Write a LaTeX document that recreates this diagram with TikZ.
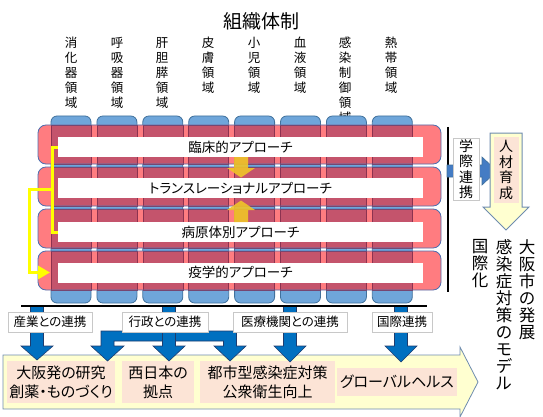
\documentclass[tikz,border=0pt]{standalone}
\usepackage{fontspec}
\setmainfont{Noto Sans CJK JP}[RawFeature={+palt}]
\usetikzlibrary{arrows.meta}
\definecolor{colblue}{RGB}{111,166,218}
\definecolor{colline}{RGB}{65,113,156}
\definecolor{rowpink}{RGB}{255,124,128}
\definecolor{rowdark}{RGB}{196,84,108}
\definecolor{rowedge}{RGB}{140,50,80}
\definecolor{rowline}{RGB}{79,110,175}
\definecolor{goldarr}{RGB}{240,196,40}
\definecolor{brightyel}{RGB}{255,255,0}
\definecolor{darrblue}{RGB}{0,112,192}
\definecolor{darrline}{RGB}{30,60,110}
\definecolor{lightyel}{RGB}{255,255,208}
\definecolor{bigline}{RGB}{110,140,175}
\definecolor{peach}{RGB}{252,228,214}
\definecolor{lblgray}{RGB}{200,200,200}
\definecolor{midblue}{RGB}{68,124,196}
\begin{document}
\begin{tikzpicture}[x=1pt,y=-1pt,
 colbox/.style={fill=colblue, draw=colline, line width=0.8pt, rounded corners=6pt},
 rowbg/.style={fill=rowpink, rounded corners=8pt},
 rowfrm/.style={draw=rowline, line width=0.8pt, rounded corners=8pt},
 ovl/.style={fill=rowdark, draw=rowedge, line width=0.5pt},
 wbox/.style={fill=white, minimum width=365pt, minimum height=20pt, inner sep=0pt, font=\fontsize{13.5}{16}\selectfont},
 gold/.style={fill=goldarr, fill opacity=0.9},
 ybr/.style={draw=brightyel, line width=3pt},
 barr/.style={fill=darrblue, draw=darrline, line width=0.6pt},
 lbl/.style={fill=white, draw=lblgray, line width=0.6pt, inner sep=0pt, minimum height=20pt, font=\fontsize{12.5}{15}\selectfont},
 pbox/.style={fill=peach, inner sep=0pt, align=center, font=\fontsize{15}{19}\selectfont},
 vtxt/.style={align=center, inner sep=0pt, font=\fontsize{12.5}{15}\selectfont},
 bigv/.style={align=center, inner sep=0pt, font=\fontsize{16.5}{17}\selectfont},
 midv/.style={align=center, inner sep=0pt, font=\fontsize{14}{15.5}\selectfont},
]
\useasboundingbox (0,0) rectangle (543,417);

% title
\node[font=\fontsize{19}{22}\selectfont, inner sep=0pt] (title) at (261,21) {組織体制};

% column labels
\node[vtxt] (c1) at (71,73) {消\\化\\器\\領\\域};
\node[vtxt] (c2) at (117,73) {呼\\吸\\器\\領\\域};
\node[vtxt] (c3) at (162,73) {肝\\胆\\膵\\領\\域};
\node[vtxt] (c4) at (208,65.5) {皮\\膚\\領\\域};
\node[vtxt] (c5) at (254,65.5) {小\\児\\領\\域};
\node[vtxt] (c6) at (300,65.5) {血\\液\\領\\域};
\node[vtxt] (c7) at (345,80.5) {感\\染\\制\\御\\領\\域};
\node[vtxt] (c8) at (391,65.5) {熱\\帯\\領\\域};

% columns
\foreach \i in {0,...,7}{
  \pgfmathsetmacro\xl{51+45.9*\i}
  \path[colbox] (\xl,116) rectangle (\xl+40,303);
}
% rows
\foreach \t in {125,167,209,251}{
  \path[rowbg] (38,\t) rectangle (441,\t+39);
  \foreach \i in {0,...,7}{
    \pgfmathsetmacro\xl{51+45.9*\i}
    \path[ovl] (\xl,\t) rectangle (\xl+40,\t+39);
  }
  \path[rowfrm] (38,\t) rectangle (441,\t+39);
}

% white approach boxes
\node[wbox] (w1) at (240.5,147) {臨床的アプローチ};
\node[wbox] (w2) at (240.5,188) {トランスレーショナルアプローチ};
\node[wbox] (w3) at (240.5,232) {病原体別アプローチ};
\node[wbox] (w4) at (240.5,272.5) {疫学的アプローチ};

% gold arrows
\path[gold] (234,157) -- (248,157) -- (248,168) -- (255,168) -- (241,177.5) -- (227,168) -- (234,168) -- cycle;
\path[gold] (234,222) -- (248,222) -- (248,210) -- (255,210) -- (241,200.5) -- (227,210) -- (234,210) -- cycle;

% yellow bracket
\draw[ybr] (w1.west) -- ++(-5,0) coordinate (bA) -- (bA |- w3.west) -- (w3.west);
\coordinate (bM) at (53,189);
\coordinate (tipY) at (50,272.5);
\draw[ybr, -{Triangle[length=12pt,width=13pt]}] (bM) -- (29,189) -- (29,272.5) -- (tipY);

% right side: vertical line, arrow, boxes
\draw[line width=1.5pt] (448,127) -- (448,292);
\path[fill=midblue, draw=colline, line width=0.6pt] (447,165) -- (482,165) -- (482,157) -- (497,171) -- (482,185) -- (482,177) -- (447,177) -- cycle;
\node[fill=white, draw=lblgray, line width=0.6pt, minimum width=26pt, minimum height=62pt, inner sep=0pt] (gk) at (466,169) {};
\node[midv] (gkt) at (466,169) {学\\際\\連\\携};

\path[fill=lightyel, draw=bigline, line width=1pt] (490,133) -- (522,133) -- (522,207) -- (529,207) -- (506,230) -- (483,207) -- (490,207) -- cycle;
\node[fill=peach, minimum width=25pt, minimum height=66pt, inner sep=0pt] (jz) at (506,170) {};
\node[midv] (jzt) at (506,170) {人\\材\\育\\成};

\node[bigv] (r1) at (527,289.5) {大\\阪\\市\\の\\発\\展};
\node[bigv] (r2) at (504,315) {感\\染\\症\\対\\策\\の\\モ\\デ\\ル};
\node[bigv] (r3) at (480,264) {国\\際\\化};

% bottom big arrow
\path[fill=lightyel, draw=bigline, line width=0.8pt] (3,355) -- (460,355) -- (460,347) -- (478,382) -- (460,417) -- (460,409) -- (3,409) -- cycle;

% peach boxes
\node[pbox, minimum width=108pt, minimum height=42pt] (p1) at (61,382) {大阪発の研究\\創薬・ものづくり};
\node[pbox, minimum width=72pt, minimum height=42pt] (p2) at (158,382) {西日本の\\拠点};
\node[pbox, minimum width=135pt, minimum height=42pt] (p3) at (267.5,382) {都市型感染症対策\\公衆衛生向上};
\node[pbox, minimum width=120pt, minimum height=28pt] (p4) at (397,382) {グローバルヘルス};

% blue down arrows
\path[barr] (169,331) -- (101,331) -- (101,346) -- (91,346) -- (107.5,361) -- (124,346) -- (114,346) -- (114,341) -- (169,341) -- cycle;
\path[barr] (169,331) -- (236.5,331) -- (236.5,346) -- (246,346) -- (230,361) -- (214,346) -- (223.5,346) -- (223.5,341) -- (169,341) -- cycle;
\foreach \c/\t in {37/360, 169/361, 290/362, 401/362}{
  \path[barr] (\c-6.5,306) -- (\c+6.5,306) -- (\c+6.5,346) -- (\c+16,346) -- (\c,\t) -- (\c-16,346) -- (\c-6.5,346) -- cycle;
}
\draw[line width=1.5pt] (21,306) -- (427,306);

% labels
\node[lbl, minimum width=84pt] (l1) at (50,322) {産業との連携};
\node[lbl, minimum width=86pt] (l2) at (165,322) {行政との連携};
\node[lbl, minimum width=114pt] (l3) at (290,322) {医療機関との連携};
\node[lbl, minimum width=60pt] (l4) at (402,322) {国際連携};
\end{tikzpicture}
\end{document}
